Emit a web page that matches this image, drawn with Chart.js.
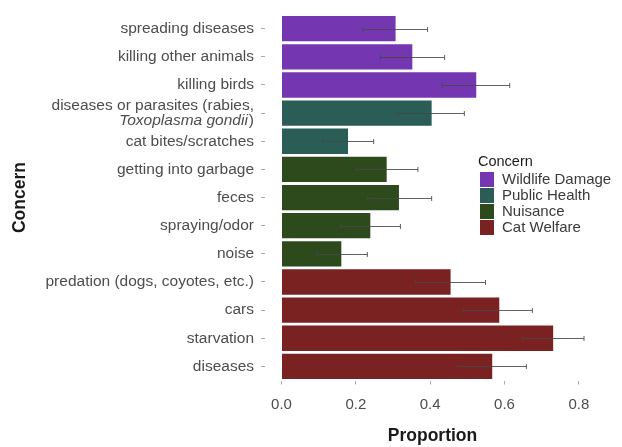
<!DOCTYPE html>
<html lang="en">
<head>
    <meta charset="UTF-8">
    <title>Cat Concerns</title>
    <script src="https://cdn.jsdelivr.net/npm/chart.js"></script>
    <style>
        body { margin: 0; background: #fff; }
        #wrap { position: relative; width: 622px; height: 447px; }
        #legend {
            position: absolute; left: 478px; top: 153px;
            font-family: "Liberation Sans", Arial, sans-serif; font-size: 15px; color: #3a3a3a;
        }
        #legend .title { color: #1a1a1a; font-size: 14.5px; margin-bottom: 2px; line-height: 16px; }
        #legend .item { height: 16px; line-height: 16px; display: flex; align-items: center; }
        #legend .key { width: 14px; height: 15px; margin-left: 2px; margin-right: 8px; }
    </style>
</head>
<body>

    <div id="wrap">
        <canvas id="concernChart" width="622" height="447"></canvas>
        <div id="legend"></div>
    </div>

    <script>
        // Data
        const categories = [
            'spreading diseases', 'killing other animals', 'killing birds',
            'diseases or parasites (rabies, Toxoplasma gondii)', 'cat bites/scratches',
            'getting into garbage', 'feces', 'spraying/odor', 'noise',
            'predation (dogs, coyotes, etc.)', 'cars', 'starvation', 'diseases'
        ];
        const groups = [
            'Wildlife Damage', 'Wildlife Damage', 'Wildlife Damage',
            'Public Health', 'Public Health',
            'Nuisance', 'Nuisance', 'Nuisance', 'Nuisance',
            'Cat Welfare', 'Cat Welfare', 'Cat Welfare', 'Cat Welfare'
        ];
        const proportion = [0.307, 0.352, 0.524, 0.404, 0.179, 0.283, 0.316, 0.239, 0.161, 0.455, 0.586, 0.731, 0.567];
        const lower = [0.220, 0.266, 0.432, 0.314, 0.110, 0.200, 0.232, 0.159, 0.095, 0.361, 0.490, 0.648, 0.473];
        const upper = [0.393, 0.439, 0.614, 0.492, 0.248, 0.367, 0.404, 0.320, 0.231, 0.549, 0.675, 0.814, 0.659];
        const legendGroups = ['Wildlife Damage', 'Public Health', 'Nuisance', 'Cat Welfare'];
        const xTicks = [0, 0.2, 0.4, 0.6, 0.8];

        const groupColors = {
            'Wildlife Damage': '#7436b1',
            'Public Health': '#2b5d57',
            'Nuisance': '#2d4a1c',
            'Cat Welfare': '#7a2122'
        };
        const FONT = '"Liberation Sans", Arial, sans-serif';

        // second line of the 4th label has an italic species name
        const labelLines = categories.map(c => c.startsWith('diseases or parasites')
            ? ['diseases or parasites (rabies,', ''] : c);

        // error bars from lower/upper through the scales
        const errorBars = {
            id: 'errorBars',
            afterDatasetsDraw(chart) {
                const x = chart.scales.x, y = chart.scales.y, ctx = chart.ctx;
                ctx.save();
                ctx.strokeStyle = 'rgba(70,70,70,0.85)';
                ctx.lineWidth = 1;
                lower.forEach((lo, i) => {
                    const py = Math.round(y.getPixelForValue(i)) + 0.5;
                    const x1 = x.getPixelForValue(lo), x2 = x.getPixelForValue(upper[i]);
                    ctx.beginPath();
                    ctx.moveTo(x1, py); ctx.lineTo(x2, py);
                    ctx.moveTo(x1, py - 2.5); ctx.lineTo(x1, py + 2.5);
                    ctx.moveTo(x2, py - 2.5); ctx.lineTo(x2, py + 2.5);
                    ctx.stroke();
                });
                ctx.restore();
            }
        };

        const italicLabel = {
            id: 'italicLabel',
            afterDraw(chart) {
                const y = chart.scales.y, ctx = chart.ctx;
                const idx = categories.findIndex(c => c.startsWith('diseases or parasites'));
                const py = y.getPixelForValue(idx) + 7.6;
                const right = chart.chartArea.left - 4 - 7;
                ctx.save();
                ctx.fillStyle = '#4d4d4d';
                ctx.textBaseline = 'middle';
                ctx.textAlign = 'right';
                ctx.font = '15.5px ' + FONT;
                ctx.fillText(')', right, py);
                const w = ctx.measureText(')').width;
                ctx.font = 'italic 15.5px ' + FONT;
                ctx.fillText('Toxoplasma gondii', right - w - 1, py);
                ctx.restore();
            }
        };

        const ctx = document.getElementById('concernChart').getContext('2d');
        const concernChart = new Chart(ctx, {
            type: 'bar',
            data: {
                labels: labelLines,
                datasets: [{
                    data: proportion,
                    backgroundColor: groups.map(g => groupColors[g]),
                    borderWidth: 0,
                    barPercentage: 0.9,
                    categoryPercentage: 1
                }]
            },
            options: {
                indexAxis: 'y',
                responsive: false,
                animation: false,
                layout: { padding: { top: 8.5, right: 22, left: 0, bottom: 0 } },
                plugins: { legend: { display: false }, tooltip: { enabled: false } },
                scales: {
                    x: {
                        min: -0.0444,
                        max: 0.857,
                        afterBuildTicks: s => { s.ticks = xTicks.map(v => ({ value: v })); },
                        afterFit: s => { s.height = 66.5; },
                        border: { display: false },
                        grid: { drawOnChartArea: false, drawTicks: true, tickLength: 4, tickColor: '#aaa' },
                        ticks: {
                            padding: 11,
                            color: '#4d4d4d',
                            font: { family: FONT, size: 15 },
                            callback: v => Number(v).toFixed(1)
                        },
                        title: {
                            display: true, text: 'Proportion', color: '#1a1a1a',
                            font: { family: FONT, size: 17.5, weight: 'bold' },
                            padding: { top: 0, bottom: 0 }
                        }
                    },
                    y: {
                        afterFit: s => { s.width = 265; },
                        border: { display: false },
                        grid: { offset: false, drawOnChartArea: false, drawTicks: true, tickLength: 4, tickColor: '#aaa' },
                        ticks: {
                            padding: 7,
                            color: '#4d4d4d',
                            autoSkip: false,
                            font: { family: FONT, size: 15.5, lineHeight: 0.98 }
                        },
                        title: {
                            display: true, text: 'Concern', color: '#1a1a1a',
                            font: { family: FONT, size: 17.5, weight: 'bold' },
                            padding: { top: 10, bottom: 0 }
                        }
                    }
                }
            },
            plugins: [errorBars, italicLabel]
        });

        // legend
        const legend = document.getElementById('legend');
        legend.innerHTML = '<div class="title">Concern</div>' + legendGroups.map(g =>
            `<div class="item"><span class="key" style="background:${groupColors[g]}"></span>${g}</div>`
        ).join('');
    </script>

</body>
</html>
